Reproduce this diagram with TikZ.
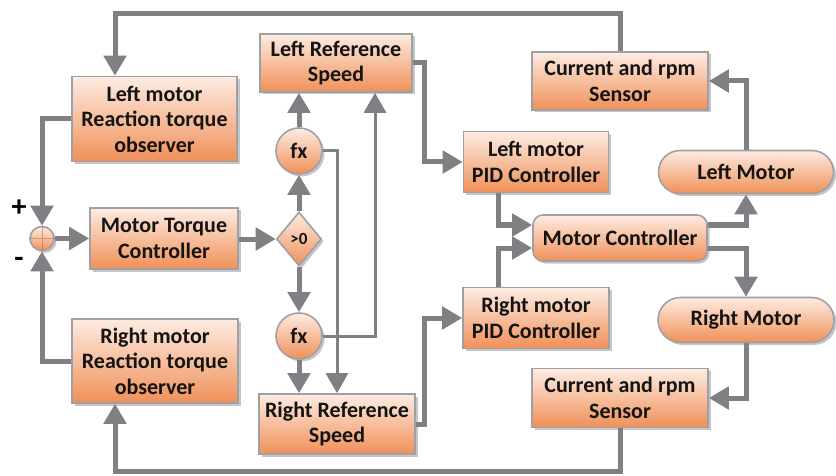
\documentclass[tikz,border=0pt]{standalone}
\usepackage{fontspec}
\setmainfont{Carlito}
\usetikzlibrary{shapes.geometric,shapes.misc,arrows.meta,shadows,calc}
\definecolor{ctop}{RGB}{253,236,226}
\definecolor{cbot}{RGB}{240,144,88}
\definecolor{cline}{RGB}{128,128,132}
\definecolor{cbord}{RGB}{160,160,164}
\definecolor{ctext}{RGB}{20,20,20}
\tikzset{
  blk/.style={draw=cbord, line width=1.6pt, top color=ctop, bottom color=cbot,
    drop shadow={shadow xshift=2.5pt, shadow yshift=-2.5pt, opacity=0.45, fill=gray},
    align=center, inner sep=0pt, text=ctext,
    font=\fontsize{22}{25.5}\selectfont\bfseries},
  rbox/.style={blk, rectangle},
  pill/.style={blk, rounded rectangle},
  rnd/.style={blk, rectangle, rounded corners=10pt},
  circ/.style={blk, circle, minimum size=46pt},
  conn/.style={draw=cline, line width=5pt, -{Triangle[length=20pt,width=22pt]}},
  thin/.style={draw=cline, line width=3pt, -{Triangle[length=20pt,width=22pt]}},
  sign/.style={font=\fontsize{30}{30}\selectfont\bfseries, text=black},
}
\begin{document}
\begin{tikzpicture}[x=1pt,y=-1pt]
\useasboundingbox (0,0) rectangle (836,476);
% nodes
\node[rbox, minimum width=165pt, minimum height=85pt] (lrto) at (154.5,119) {Left motor\\Reaction torque\\observer};
\node[rbox, minimum width=152pt, minimum height=58pt] (lrs) at (336,63) {Left Reference\\Speed};
\node[rbox, minimum width=176pt, minimum height=58pt] (cs1) at (620,81) {Current and rpm\\Sensor};
\node[rbox, minimum width=145pt, minimum height=61pt] (lpid) at (536,162) {Left motor\\PID Controller};
\node[pill, minimum width=175pt, minimum height=43pt] (lm) at (746,172) {Left Motor};
\node[rnd, minimum width=174pt, minimum height=46pt] (mc) at (620,238) {Motor Controller};
\node[rbox, minimum width=148pt, minimum height=61pt] (mtc) at (164,238.5) {Motor Torque\\Controller};
\node[blk, circle, minimum size=24pt] (sum) at (42,238.5) {};
\draw[draw=cbot!70!black, line width=0.6pt, opacity=0.5] (sum.north) -- (sum.south) (sum.west) -- (sum.east);
\node[blk, diamond, minimum width=45pt, minimum height=54pt, font=\fontsize{17}{18}\selectfont\bfseries] (dia) at (299,239) {>0};
\node[circ] (fx1) at (299,151) {fx};
\node[circ] (fx2) at (299,336) {fx};
\node[rbox, minimum width=166pt, minimum height=84pt] (rrto) at (155,361) {Right motor\\Reaction torque\\observer};
\node[rbox, minimum width=156pt, minimum height=60pt] (rrs) at (337,424) {Right Reference\\Speed};
\node[rbox, minimum width=146pt, minimum height=61pt] (rpid) at (536,318) {Right motor\\PID Controller};
\node[pill, minimum width=176pt, minimum height=45pt] (rm) at (746,320) {Right Motor};
\node[rbox, minimum width=176pt, minimum height=59pt] (cs2) at (620,398) {Current and rpm\\Sensor};
\node[sign] (plus) at (19,208) {+};
\node[sign] (minus) at (19,262) {-};
% connectors
\draw[conn] (cs1.north) |- (115,14) -- (lrto.north -| 115,0);
\draw[conn] (lrto.west) -| (sum.north);
\draw[conn] (rrto.west) -| (sum.south);
\draw[conn] (sum.east) -- (sum.east -| mtc.west);
\draw[conn] (mtc.east |- dia.west) -- (dia.west);
\draw[conn] (dia.north) -- (fx1.south);
\draw[conn] (fx1.north) -- (fx1.north |- lrs.south);
\draw[conn] (dia.south) -- (fx2.north);
\draw[conn] (fx2.south) -- (fx2.south |- rrs.north);
\draw[thin] (fx1.east) -| (rrs.north);
\draw[thin] (fx2.east) -| (lrs.south -| 375,0);
\draw[conn] (lrs.east) -- (lrs.east -| 424,0) |- (lpid.west);
\draw[conn] (rrs.east) -- (rrs.east -| 424,0) |- (rpid.west);
\draw[conn] (lpid.south -| 498,0) |- ($(mc.west)+(0,-13)$);
\draw[conn] (rpid.north -| 498,0) |- ($(mc.west)+(0,10)$);
\draw[conn] ($(mc.east)+(0,-13)$) -| (lm.south);
\draw[conn] ($(mc.east)+(0,10)$) -| (rm.north);
\draw[conn] (lm.north) |- (cs1.east);
\draw[conn] (rm.south) |- (cs2.east);
\draw[conn] (cs2.south) |- (115,471) -- (rrto.south -| 115,0);
\end{tikzpicture}
\end{document}
